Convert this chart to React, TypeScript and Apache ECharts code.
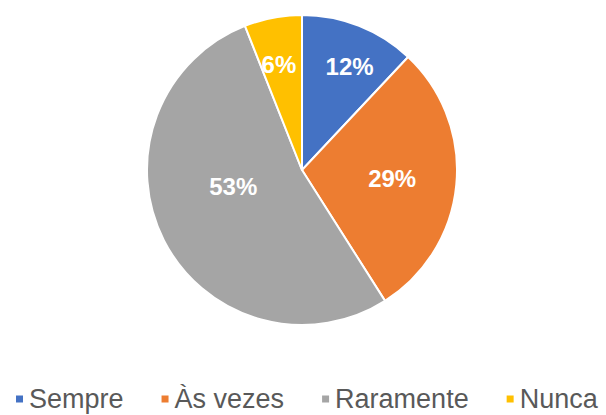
import React, { useEffect, useRef } from "react";
import * as echarts from "echarts";

const categories = ["Sempre", "Às vezes", "Raramente", "Nunca"];
const values = [12, 29, 53, 6];
const colors = ["#4472C4", "#ED7D31", "#A5A5A5", "#FFC000"];

export default function App() {
  const ref = useRef<HTMLDivElement>(null);
  useEffect(() => {
    if (!ref.current) return;
    const chart = echarts.init(ref.current, undefined, { renderer: "svg" });
    const labelOffsets = [
      [18, -29],
      [10, 1],
      [3, -20],
      [-8, -26],
    ];
    chart.setOption({
      animation: false,
      backgroundColor: "#ffffff",
      color: colors,
      legend: {
        data: categories,
        top: 384,
        left: 14,
        itemWidth: 9,
        itemHeight: 9,
        itemGap: 36,
        icon: "rect",
        padding: 0,
        textStyle: {
          fontFamily: "Liberation Sans, Arial, sans-serif",
          fontSize: 27,
          lineHeight: 30,
          color: "#595959",
        },
      },
      series: [
        {
          type: "pie",
          center: [302, 170],
          radius: 155,
          startAngle: 90,
          clockwise: true,
          itemStyle: { borderColor: "#ffffff", borderWidth: 2 },
          label: {
            show: true,
            position: "inside",
            formatter: "{c}%",
            color: "#ffffff",
            fontWeight: "bold",
            fontSize: 24,
            fontFamily: "Liberation Sans, Arial, sans-serif",
          },
          labelLine: { show: false },
          emphasis: { disabled: true },
          data: categories.map((name, i) => ({
            name,
            value: values[i],
            label: { offset: labelOffsets[i] },
          })),
        },
      ],
    });
    return () => chart.dispose();
  }, []);
  return (
    <div
      ref={ref}
      style={{ position: "fixed", left: 0, top: 0, width: 606, height: 415 }}
    />
  );
}
